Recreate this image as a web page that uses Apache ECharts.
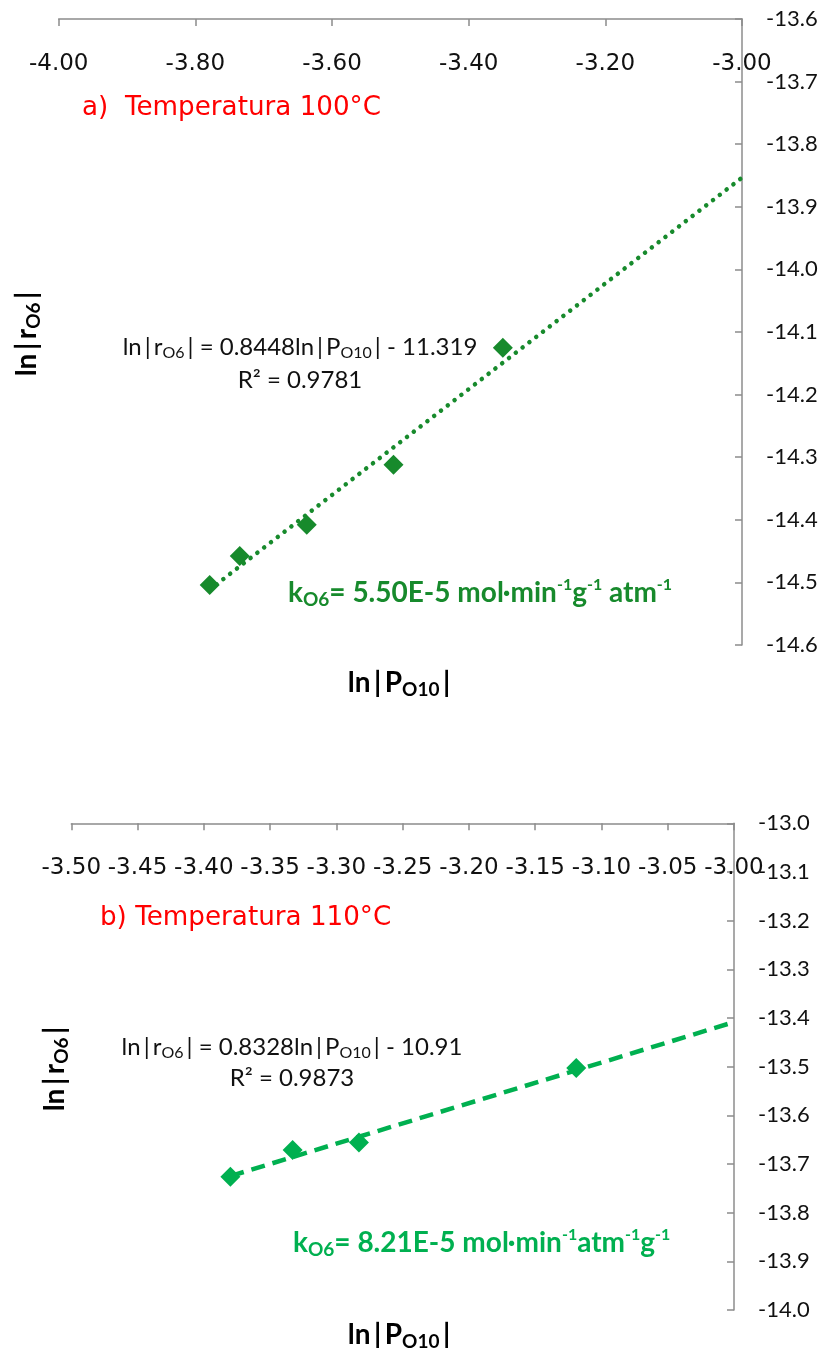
<!DOCTYPE html>
<html>
<head>
<meta charset="utf-8">
<script src="https://cdn.jsdelivr.net/npm/echarts@6/dist/echarts.min.js"></script>
<style>
  html, body { margin: 0; padding: 0; background: #fff; }
  #chart { width: 826px; height: 1348px; }
</style>
</head>
<body>
<div id="chart"></div>
<script>
// ln|P_O10| (x) against ln|r_O6| (y), 100 °C run
const xA = [-3.779, -3.735, -3.637, -3.510, -3.350];
const yA = [-14.504, -14.458, -14.408, -14.312, -14.125];
// 110 °C run
const xB = [-3.380, -3.333, -3.283, -3.119];
const yB = [-13.726, -13.671, -13.656, -13.503];
// linear fits [slope, intercept] and their R²
const fitA = [0.8448, -11.319];
const fitB = [0.8328, -10.91];
const r2A = '0.9781';
const r2B = '0.9873';
// rate constants
const kA = '5.50E-5';
const kB = '8.21E-5';
// axis ranges and steps
const xRangeA = [-4.0, -3.0], xStepA = 0.2;
const yRangeA = [-14.6, -13.6];
const xRangeB = [-3.5, -3.0], xStepB = 0.05;
const yRangeB = [-14.0, -13.0];

const GREEN_A = '#178a2c';
const GREEN_B = '#00b050';
const AXIS = '#8c8c8c';
const THIN = '\u2009';

function fitLine(fit, xs, xEnd) {
  const x0 = Math.min.apply(null, xs);
  return [[x0, fit[0] * x0 + fit[1]], [xEnd, fit[0] * xEnd + fit[1]]];
}

function xAxisCfg(gridIndex, range, step, margin) {
  return {
    type: 'value', gridIndex: gridIndex, position: 'top',
    min: range[0], max: range[1], interval: step,
    axisLine: { onZero: false, lineStyle: { color: AXIS, width: 1.5 } },
    axisTick: { inside: true, length: 7, lineStyle: { color: AXIS, width: 1.5 } },
    axisLabel: {
      inside: true, margin: margin, color: '#111',
      fontFamily: 'DejaVu Sans', fontSize: 23,
      showMinLabel: true, showMaxLabel: true,
      formatter: v => v.toFixed(2)
    },
    splitLine: { show: false }
  };
}

function yAxisCfg(gridIndex, range) {
  return {
    type: 'value', gridIndex: gridIndex, position: 'right',
    min: range[0], max: range[1], interval: 0.1,
    axisLine: { onZero: false, lineStyle: { color: AXIS, width: 1.5 } },
    axisTick: { inside: true, length: 7, lineStyle: { color: AXIS, width: 1.5 } },
    axisLabel: {
      margin: 24, color: '#111', fontFamily: 'Lato', fontSize: 22,
      showMinLabel: true, showMaxLabel: true,
      formatter: v => v.toFixed(1)
    },
    splitLine: { show: false }
  };
}

const eqRich = {
  m: { font: '24px Lato' },
  s: { font: '16px Lato', padding: [12, 0, 0, 0] }
};
const kRich = {
  m: { font: 'bold 28px Lato' },
  s: { font: 'bold 19px Lato', padding: [14, 0, 0, 0] },
  p: { font: 'bold 16px Lato', padding: [0, 0, 16, 0] }
};
const nameRich = {
  m: { font: 'bold 28px Lato' },
  s: { font: 'bold 19px Lato', padding: [13, 0, 0, 0] }
};

function eqText(fit, r2) {
  const b = Math.abs(fit[1]);
  return '{m|ln' + THIN + '|' + THIN + 'r}{s|O6}{m|' + THIN + '| = ' + fit[0] +
    'ln' + THIN + '|' + THIN + 'P}{s|O10}{m|' + THIN + '| - ' + b + '}\n{m|R² = ' + r2 + '}';
}

function textEl(x, y, text, rich, fill, align, lineHeight, rotation) {
  return {
    type: 'text', x: x, y: y, rotation: rotation || 0, z: 100,
    style: {
      text: text, rich: rich, fill: fill,
      font: rich.m.font,
      align: align, verticalAlign: 'middle',
      lineHeight: lineHeight || 34
    }
  };
}

const nameP = '{m|ln' + THIN + '|' + THIN + 'P}{s|O10}{m|' + THIN + '|}';
const nameR = '{m|ln' + THIN + '|' + THIN + 'r}{s|O6}{m|' + THIN + '|}';

const chart = echarts.init(document.getElementById('chart'), null, { renderer: 'canvas' });

chart.setOption({
  backgroundColor: '#ffffff',
  animation: false,
  grid: [
    { left: 58.7, top: 19, width: 683.3, height: 626 },
    { left: 71.3, top: 823.3, width: 662.7, height: 486.7 }
  ],
  xAxis: [xAxisCfg(0, xRangeA, xStepA, 34), xAxisCfg(1, xRangeB, xStepB, 33)],
  yAxis: [yAxisCfg(0, yRangeA), yAxisCfg(1, yRangeB)],
  series: [
    {
      type: 'line', xAxisIndex: 0, yAxisIndex: 0,
      data: fitLine(fitA, xA, xRangeA[1]),
      showSymbol: false, silent: true, z: 3,
      lineStyle: { color: GREEN_A, width: 4.5, type: [0.1, 8.5], cap: 'round' }
    },
    {
      type: 'scatter', xAxisIndex: 0, yAxisIndex: 0,
      data: xA.map((x, i) => [x, yA[i]]),
      symbol: 'diamond', symbolSize: 20, z: 2,
      itemStyle: { color: GREEN_A, opacity: 1 }
    },
    {
      type: 'line', xAxisIndex: 1, yAxisIndex: 1,
      data: fitLine(fitB, xB, xRangeB[1]),
      showSymbol: false, silent: true, z: 3,
      lineStyle: { color: GREEN_B, width: 4.5, type: [14, 8] }
    },
    {
      type: 'scatter', xAxisIndex: 1, yAxisIndex: 1,
      data: xB.map((x, i) => [x, yB[i]]),
      symbol: 'diamond', symbolSize: 20, z: 2,
      itemStyle: { color: GREEN_B, opacity: 1 }
    }
  ],
  graphic: [
    // panel titles
    textEl(82, 108, '{m|a)  Temperatura 100°C}', { m: { font: '26.2px "DejaVu Sans"' } }, '#ff0000', 'left'),
    textEl(100, 918, '{m|b) Temperatura 110°C}', { m: { font: '26.2px "DejaVu Sans"' } }, '#ff0000', 'left'),
    // fit equations
    textEl(300, 363.5, eqText(fitA, r2A), eqRich, '#111', 'center', 33),
    textEl(292, 1062.5, eqText(fitB, r2B), eqRich, '#111', 'center', 31),
    // rate constants
    textEl(288, 593, '{m|k}{s|O6}{m|= ' + kA + ' mol·min}{p|-1}{m|g}{p|-1}{m| atm}{p|-1}', kRich, GREEN_A, 'left', 40),
    textEl(293, 1243, '{m|k}{s|O6}{m|= ' + kB + ' mol·min}{p|-1}{m|atm}{p|-1}{m|g}{p|-1}', kRich, GREEN_B, 'left', 40),
    // axis names
    textEl(399, 683, nameP, nameRich, '#000', 'center'),
    textEl(399, 1335, nameP, nameRich, '#000', 'center'),
    textEl(27, 334, nameR, nameRich, '#000', 'center', 34, Math.PI / 2),
    textEl(55, 1069, nameR, nameRich, '#000', 'center', 34, Math.PI / 2)
  ]
});
</script>
</body>
</html>
